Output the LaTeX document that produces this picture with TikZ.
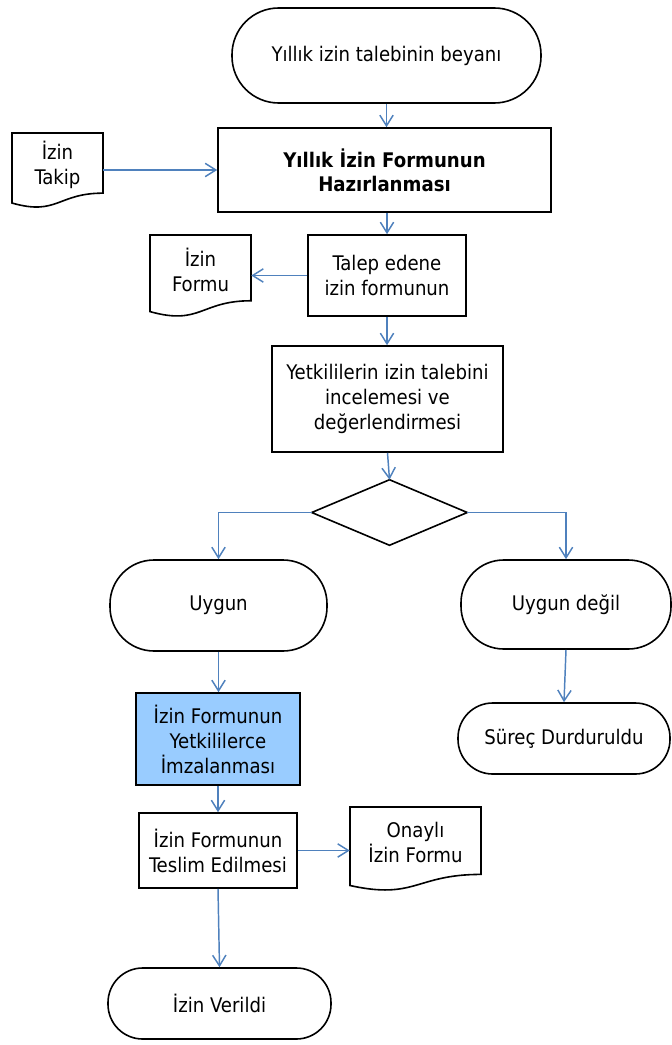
\documentclass[tikz,border=0pt]{standalone}
\usepackage{fontspec}
\setmainfont{DejaVu Sans Condensed}
\usetikzlibrary{arrows.meta,calc}
\definecolor{arrowblue}{RGB}{79,129,189}
\definecolor{procblue}{RGB}{153,204,255}
\begin{document}
\begin{tikzpicture}[x=0.75pt,y=-0.75pt,
  every node/.style={font=\fontsize{15.1}{18.75}\selectfont, align=center, inner sep=0pt},
  box/.style={draw=black, line width=1.2pt, rectangle},
  term/.style={draw=black, line width=1.2pt, rectangle, rounded corners=#1},
  doctext/.style={draw=none, rectangle},
  docline/.style={draw=black, line width=1.2pt, line join=miter},
  flow/.style={draw=arrowblue, line width=1.1pt, -{Straight Barb[length=8pt,width=10pt]}}
]
\useasboundingbox (0,0) rectangle (671,1045);

% nodes
\node[term=35pt, minimum width=231.75pt, minimum height=71.25pt] (start) at (386.5,55.5) {Yıllık izin talebinin beyanı};
\node[box, minimum width=249.75pt, minimum height=63pt, font=\fontsize{15.1}{18}\selectfont\bfseries] (prep) at (384.5,170) {Yıllık İzin Formunun\\Hazırlanması};

\draw[docline] (12,133) -- (103,133) -- (103,193.15) .. controls (57.5,193.15) and (57.5,216.0) .. (12,203.05) -- cycle;
\node[doctext, minimum width=68.25pt, minimum height=48pt] (takip) at (57.5,165) {İzin\\Takip};

\node[box, minimum width=118.5pt, minimum height=60.75pt] (talep) at (387,275.5) {Talep edene\\izin formunun};

\draw[docline] (150,235) -- (251,235) -- (251,300.76) .. controls (200.5,300.76) and (200.5,325.77) .. (150,311.6) -- cycle;
\node[doctext, minimum width=75.75pt, minimum height=52.5pt] (formu) at (200.5,270) {İzin\\Formu};

\node[box, minimum width=173.25pt, minimum height=79.5pt] (yetkili) at (387.5,399) {Yetkililerin izin talebini\\incelemesi ve\\değerlendirmesi};

\node[doctext, minimum width=116.25pt, minimum height=48.75pt] (dec) at (389.5,512.5) {};
\draw[docline] (dec.north) -- (dec.east) -- (dec.south) -- (dec.west) -- cycle;

\node[term=33pt, minimum width=162.75pt, minimum height=68.25pt] (uygun) at (218.5,605.5) {Uygun};
\node[term=32pt, minimum width=157.5pt, minimum height=66.75pt] (degil) at (566,604.5) {Uygun değil};

\node[box, fill=procblue, minimum width=123pt, minimum height=69pt] (imza) at (218,739) {İzin Formunun\\Yetkililerce\\İmzalanması};
\node[term=26pt, minimum width=159pt, minimum height=53.25pt] (surec) at (564,738.5) {Süreç Durduruldu};

\node[box, minimum width=118.5pt, minimum height=56.25pt] (teslim) at (218,850.5) {İzin Formunun\\Teslim Edilmesi};

\draw[docline] (350,807) -- (481,807) -- (481,874.4) .. controls (415.5,874.4) and (415.5,900) .. (350,885.5) -- cycle;
\node[doctext, minimum width=98.25pt, minimum height=52.5pt] (onayli) at (415.5,842) {Onaylı\\İzin Formu};

\node[term=26pt, minimum width=167.25pt, minimum height=53.25pt] (verildi) at (219.5,1003.5) {İzin Verildi};

% connectors
\draw[flow] (start.south) -- (start.south |- prep.north);
\draw[flow] (takip.east |- prep.west) -- (prep.west);
\draw[flow] (talep.north |- prep.south) -- (talep.north);
\draw[flow] (talep.west) -- (formu.east |- talep.west);
\draw[flow] (talep.south) -- (talep.south |- yetkili.north);
\draw[flow] (yetkili.south) -- (dec.north);
\draw[flow] (dec.west) -| (uygun.north);
\draw[flow] (dec.east) -| (degil.north);
\draw[flow] (uygun.south) -- (uygun.south |- imza.north);
\draw[flow] (degil.south) -- (surec.north);
\draw[flow] (imza.south) -- (imza.south |- teslim.north);
\draw[flow] (teslim.east) -- (teslim.east -| onayli.west);
\draw[flow] (teslim.south) -- (verildi.north);
\end{tikzpicture}
\end{document}
